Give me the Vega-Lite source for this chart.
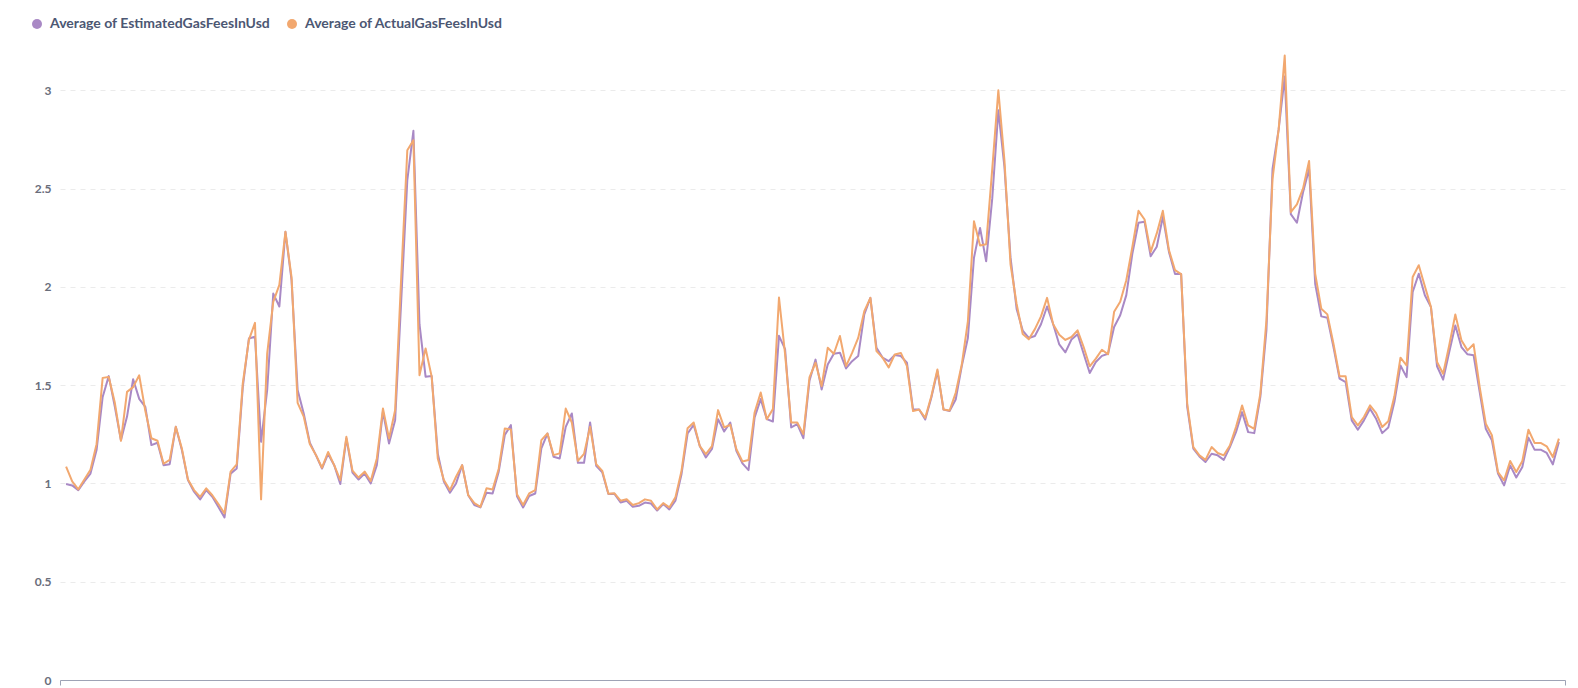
{
  "$schema": "https://vega.github.io/schema/vega-lite/v6.json",
  "width": 1505,
  "height": 629,
  "autosize": {"type": "none"},
  "padding": {"left": 60, "top": 51, "right": 13, "bottom": 8},
  "background": "white",
  "config": {"view": {"stroke": null}, "font": "Lato"},
  "data": {"values": [
    {"day":0,"estimated":0.997,"actual":1.085},{"day":1,"estimated":0.99,"actual":1.01},{"day":2,"estimated":0.966,"actual":0.97},{"day":3,"estimated":1.01,"actual":1.02},{"day":4,"estimated":1.05,"actual":1.07},{"day":5,"estimated":1.17,"actual":1.2},{"day":6,"estimated":1.44,"actual":1.537},{"day":7,"estimated":1.546,"actual":1.542},{"day":8,"estimated":1.39,"actual":1.41},{"day":9,"estimated":1.22,"actual":1.217},
    {"day":10,"estimated":1.34,"actual":1.466},{"day":11,"estimated":1.53,"actual":1.49},{"day":12,"estimated":1.43,"actual":1.55},{"day":13,"estimated":1.39,"actual":1.37},{"day":14,"estimated":1.195,"actual":1.23},{"day":15,"estimated":1.207,"actual":1.217},{"day":16,"estimated":1.093,"actual":1.1},{"day":17,"estimated":1.098,"actual":1.12},{"day":18,"estimated":1.288,"actual":1.288},{"day":19,"estimated":1.17,"actual":1.178},
    {"day":20,"estimated":1.017,"actual":1.02},{"day":21,"estimated":0.958,"actual":0.966},{"day":22,"estimated":0.919,"actual":0.932},{"day":23,"estimated":0.966,"actual":0.975},{"day":24,"estimated":0.932,"actual":0.94},{"day":25,"estimated":0.88,"actual":0.895},{"day":26,"estimated":0.827,"actual":0.847},{"day":27,"estimated":1.05,"actual":1.06},{"day":28,"estimated":1.076,"actual":1.097},{"day":29,"estimated":1.49,"actual":1.51},
    {"day":30,"estimated":1.737,"actual":1.73},{"day":31,"estimated":1.746,"actual":1.817},{"day":32,"estimated":1.212,"actual":0.919},{"day":33,"estimated":1.475,"actual":1.66},{"day":34,"estimated":1.966,"actual":1.924},{"day":35,"estimated":1.9,"actual":2.01},{"day":36,"estimated":2.28,"actual":2.28},{"day":37,"estimated":2.034,"actual":2.05},{"day":38,"estimated":1.475,"actual":1.41},{"day":39,"estimated":1.356,"actual":1.34},
    {"day":40,"estimated":1.207,"actual":1.2},{"day":41,"estimated":1.144,"actual":1.145},{"day":42,"estimated":1.076,"actual":1.08},{"day":43,"estimated":1.15,"actual":1.16},{"day":44,"estimated":1.093,"actual":1.093},{"day":45,"estimated":0.997,"actual":1.017},{"day":46,"estimated":1.229,"actual":1.237},{"day":47,"estimated":1.055,"actual":1.065},{"day":48,"estimated":1.02,"actual":1.03},{"day":49,"estimated":1.05,"actual":1.06},
    {"day":50,"estimated":1.0,"actual":1.012},{"day":51,"estimated":1.093,"actual":1.127},{"day":52,"estimated":1.365,"actual":1.381},{"day":53,"estimated":1.203,"actual":1.229},{"day":54,"estimated":1.322,"actual":1.373},{"day":55,"estimated":1.93,"actual":2.05},{"day":56,"estimated":2.543,"actual":2.695},{"day":57,"estimated":2.794,"actual":2.746},{"day":58,"estimated":1.81,"actual":1.55},{"day":59,"estimated":1.543,"actual":1.687},
    {"day":60,"estimated":1.546,"actual":1.543},{"day":61,"estimated":1.153,"actual":1.127},{"day":62,"estimated":1.01,"actual":1.017},{"day":63,"estimated":0.953,"actual":0.966},{"day":64,"estimated":1.0,"actual":1.034},{"day":65,"estimated":1.093,"actual":1.093},{"day":66,"estimated":0.94,"actual":0.94},{"day":67,"estimated":0.89,"actual":0.9},{"day":68,"estimated":0.878,"actual":0.881},{"day":69,"estimated":0.953,"actual":0.975},
    {"day":70,"estimated":0.949,"actual":0.969},{"day":71,"estimated":1.06,"actual":1.075},{"day":72,"estimated":1.246,"actual":1.28},{"day":73,"estimated":1.297,"actual":1.275},{"day":74,"estimated":0.935,"actual":0.945},{"day":75,"estimated":0.878,"actual":0.89},{"day":76,"estimated":0.936,"actual":0.949},{"day":77,"estimated":0.949,"actual":0.966},{"day":78,"estimated":1.178,"actual":1.22},{"day":79,"estimated":1.254,"actual":1.254},
    {"day":80,"estimated":1.136,"actual":1.144},{"day":81,"estimated":1.127,"actual":1.153},{"day":82,"estimated":1.288,"actual":1.381},{"day":83,"estimated":1.356,"actual":1.31},{"day":84,"estimated":1.105,"actual":1.115},{"day":85,"estimated":1.105,"actual":1.15},{"day":86,"estimated":1.31,"actual":1.288},{"day":87,"estimated":1.09,"actual":1.098},{"day":88,"estimated":1.056,"actual":1.064},{"day":89,"estimated":0.946,"actual":0.948},
    {"day":90,"estimated":0.947,"actual":0.95},{"day":91,"estimated":0.903,"actual":0.912},{"day":92,"estimated":0.912,"actual":0.92},{"day":93,"estimated":0.881,"actual":0.89},{"day":94,"estimated":0.886,"actual":0.9},{"day":95,"estimated":0.903,"actual":0.919},{"day":96,"estimated":0.898,"actual":0.912},{"day":97,"estimated":0.862,"actual":0.868},{"day":98,"estimated":0.895,"actual":0.9},{"day":99,"estimated":0.868,"actual":0.878},
    {"day":100,"estimated":0.912,"actual":0.929},{"day":101,"estimated":1.047,"actual":1.064},{"day":102,"estimated":1.254,"actual":1.281},{"day":103,"estimated":1.298,"actual":1.31},{"day":104,"estimated":1.19,"actual":1.19},{"day":105,"estimated":1.132,"actual":1.149},{"day":106,"estimated":1.175,"actual":1.19},{"day":107,"estimated":1.327,"actual":1.373},{"day":108,"estimated":1.264,"actual":1.285},{"day":109,"estimated":1.31,"actual":1.298},
    {"day":110,"estimated":1.166,"actual":1.175},{"day":111,"estimated":1.102,"actual":1.112},{"day":112,"estimated":1.068,"actual":1.119},{"day":113,"estimated":1.336,"actual":1.361},{"day":114,"estimated":1.429,"actual":1.463},{"day":115,"estimated":1.327,"actual":1.327},{"day":116,"estimated":1.315,"actual":1.378},{"day":117,"estimated":1.751,"actual":1.946},{"day":118,"estimated":1.683,"actual":1.658},{"day":119,"estimated":1.285,"actual":1.31},
    {"day":120,"estimated":1.302,"actual":1.31},{"day":121,"estimated":1.23,"actual":1.251},{"day":122,"estimated":1.522,"actual":1.539},{"day":123,"estimated":1.63,"actual":1.614},{"day":124,"estimated":1.478,"actual":1.495},{"day":125,"estimated":1.605,"actual":1.69},{"day":126,"estimated":1.66,"actual":1.66},{"day":127,"estimated":1.665,"actual":1.75},{"day":128,"estimated":1.585,"actual":1.597},{"day":129,"estimated":1.622,"actual":1.664},
    {"day":130,"estimated":1.648,"actual":1.74},{"day":131,"estimated":1.86,"actual":1.876},{"day":132,"estimated":1.944,"actual":1.944},{"day":133,"estimated":1.69,"actual":1.673},{"day":134,"estimated":1.64,"actual":1.64},{"day":135,"estimated":1.622,"actual":1.59},{"day":136,"estimated":1.653,"actual":1.656},{"day":137,"estimated":1.648,"actual":1.664},{"day":138,"estimated":1.614,"actual":1.597},{"day":139,"estimated":1.376,"actual":1.368},
    {"day":140,"estimated":1.376,"actual":1.376},{"day":141,"estimated":1.325,"actual":1.334},{"day":142,"estimated":1.436,"actual":1.444},{"day":143,"estimated":1.571,"actual":1.58},{"day":144,"estimated":1.376,"actual":1.376},{"day":145,"estimated":1.368,"actual":1.371},{"day":146,"estimated":1.427,"actual":1.461},{"day":147,"estimated":1.597,"actual":1.605},{"day":148,"estimated":1.74,"actual":1.825},{"day":149,"estimated":2.148,"actual":2.334},
    {"day":150,"estimated":2.3,"actual":2.21},{"day":151,"estimated":2.13,"actual":2.217},{"day":152,"estimated":2.45,"actual":2.6},{"day":153,"estimated":2.898,"actual":3.0},{"day":154,"estimated":2.61,"actual":2.644},{"day":155,"estimated":2.15,"actual":2.115},{"day":156,"estimated":1.888,"actual":1.913},{"day":157,"estimated":1.778,"actual":1.76},{"day":158,"estimated":1.74,"actual":1.733},{"day":159,"estimated":1.75,"actual":1.785},
    {"day":160,"estimated":1.81,"actual":1.85},{"day":161,"estimated":1.9,"actual":1.944},{"day":162,"estimated":1.81,"actual":1.81},{"day":163,"estimated":1.707,"actual":1.756},{"day":164,"estimated":1.667,"actual":1.73},{"day":165,"estimated":1.732,"actual":1.745},{"day":166,"estimated":1.759,"actual":1.779},{"day":167,"estimated":1.66,"actual":1.694},{"day":168,"estimated":1.562,"actual":1.596},{"day":169,"estimated":1.618,"actual":1.635},
    {"day":170,"estimated":1.649,"actual":1.68},{"day":171,"estimated":1.66,"actual":1.657},{"day":172,"estimated":1.796,"actual":1.873},{"day":173,"estimated":1.856,"actual":1.924},{"day":174,"estimated":1.958,"actual":2.034},{"day":175,"estimated":2.17,"actual":2.204},{"day":176,"estimated":2.326,"actual":2.387},{"day":177,"estimated":2.331,"actual":2.343},{"day":178,"estimated":2.156,"actual":2.178},{"day":179,"estimated":2.204,"actual":2.272},
    {"day":180,"estimated":2.357,"actual":2.387},{"day":181,"estimated":2.178,"actual":2.187},{"day":182,"estimated":2.065,"actual":2.085},{"day":183,"estimated":2.065,"actual":2.065},{"day":184,"estimated":1.389,"actual":1.406},{"day":185,"estimated":1.177,"actual":1.185},{"day":186,"estimated":1.137,"actual":1.143},{"day":187,"estimated":1.109,"actual":1.12},{"day":188,"estimated":1.151,"actual":1.185},{"day":189,"estimated":1.143,"actual":1.155},
    {"day":190,"estimated":1.12,"actual":1.143},{"day":191,"estimated":1.185,"actual":1.193},{"day":192,"estimated":1.261,"actual":1.287},{"day":193,"estimated":1.363,"actual":1.397},{"day":194,"estimated":1.261,"actual":1.295},{"day":195,"estimated":1.256,"actual":1.278},{"day":196,"estimated":1.44,"actual":1.457},{"day":197,"estimated":1.78,"actual":1.83},{"day":198,"estimated":2.6,"actual":2.55},{"day":199,"estimated":2.8,"actual":2.8},
    {"day":200,"estimated":3.07,"actual":3.177},{"day":201,"estimated":2.37,"actual":2.38},{"day":202,"estimated":2.326,"actual":2.42},{"day":203,"estimated":2.48,"actual":2.5},{"day":204,"estimated":2.6,"actual":2.64},{"day":205,"estimated":2.016,"actual":2.067},{"day":206,"estimated":1.85,"actual":1.889},{"day":207,"estimated":1.843,"actual":1.86},{"day":208,"estimated":1.694,"actual":1.711},{"day":209,"estimated":1.533,"actual":1.545},
    {"day":210,"estimated":1.516,"actual":1.545},{"day":211,"estimated":1.321,"actual":1.338},{"day":212,"estimated":1.273,"actual":1.295},{"day":213,"estimated":1.321,"actual":1.338},{"day":214,"estimated":1.38,"actual":1.397},{"day":215,"estimated":1.329,"actual":1.358},{"day":216,"estimated":1.256,"actual":1.287},{"day":217,"estimated":1.284,"actual":1.316},{"day":218,"estimated":1.414,"actual":1.443},{"day":219,"estimated":1.6,"actual":1.64},
    {"day":220,"estimated":1.541,"actual":1.6},{"day":221,"estimated":1.974,"actual":2.05},{"day":222,"estimated":2.067,"actual":2.11},{"day":223,"estimated":1.957,"actual":2.003},{"day":224,"estimated":1.897,"actual":1.897},{"day":225,"estimated":1.596,"actual":1.618},{"day":226,"estimated":1.528,"actual":1.558},{"day":227,"estimated":1.669,"actual":1.703},{"day":228,"estimated":1.804,"actual":1.86},{"day":229,"estimated":1.694,"actual":1.728},
    {"day":230,"estimated":1.657,"actual":1.677},{"day":231,"estimated":1.652,"actual":1.708},{"day":232,"estimated":1.465,"actual":1.49},{"day":233,"estimated":1.278,"actual":1.304},{"day":234,"estimated":1.219,"actual":1.245},{"day":235,"estimated":1.05,"actual":1.058},{"day":236,"estimated":0.99,"actual":1.016},{"day":237,"estimated":1.092,"actual":1.114},{"day":238,"estimated":1.03,"actual":1.058},{"day":239,"estimated":1.084,"actual":1.114},
    {"day":240,"estimated":1.233,"actual":1.273},{"day":241,"estimated":1.172,"actual":1.206},{"day":242,"estimated":1.172,"actual":1.206},{"day":243,"estimated":1.155,"actual":1.189},{"day":244,"estimated":1.097,"actual":1.134},{"day":245,"estimated":1.211,"actual":1.228}
  ]},
  "encoding": {
    "x": {
      "field": "day",
      "type": "quantitative",
      "scale": {"domain": [-1, 246], "nice": false, "zero": false},
      "axis": {
        "title": null,
        "labels": false,
        "grid": false,
        "values": [-1, 246],
        "ticks": true,
        "tickSize": 5,
        "tickColor": "#9EA3B5",
        "domainColor": "#9EA3B5",
        "domainWidth": 1
      }
    }
  },
  "layer": [
    {
      "mark": {"type": "line", "strokeWidth": 2, "strokeJoin": "round"},
      "encoding": {
        "y": {
          "field": "estimated",
          "type": "quantitative",
          "scale": {"domain": [0, 3.2], "nice": false},
          "axis": {
            "title": null,
            "values": [0, 0.5, 1, 1.5, 2, 2.5, 3],
            "format": "~g",
            "domain": false,
            "ticks": false,
            "labelPadding": 9,
            "labelFont": "Lato",
            "labelFontSize": 12,
            "labelFontWeight": "bold",
            "labelColor": "#696E7B",
            "gridColor": "#EBEBEB",
            "gridDash": [5, 5],
            "gridWidth": 1
          }
        },
        "color": {
          "datum": "Average of EstimatedGasFeesInUsd",
          "scale": {
            "domain": ["Average of EstimatedGasFeesInUsd", "Average of ActualGasFeesInUsd"],
            "range": ["#A989C5", "#F2A86F"]
          },
          "legend": {
            "title": null,
            "orient": "none",
            "legendX": -30,
            "legendY": -34,
            "direction": "horizontal",
            "symbolType": "circle",
            "symbolSize": 100,
            "symbolStrokeWidth": 0,
            "labelFont": "Lato",
            "labelFontSize": 14,
            "labelFontWeight": "bold",
            "labelColor": "#4C5773",
            "labelLimit": 0,
            "labelOffset": 6,
            "columnPadding": 14,
            "encode": {"symbols": {"update": {"fill": {"scale": "color", "field": "value"}, "fillOpacity": {"value": 1}}}}
          }
        }
      }
    },
    {
      "mark": {"type": "line", "strokeWidth": 2, "strokeJoin": "round"},
      "encoding": {
        "y": {
          "field": "actual",
          "type": "quantitative",
          "scale": {"domain": [0, 3.2], "nice": false},
          "axis": {
            "title": null,
            "values": [0, 0.5, 1, 1.5, 2, 2.5, 3],
            "format": "~g",
            "domain": false,
            "ticks": false,
            "labelPadding": 9,
            "labelFont": "Lato",
            "labelFontSize": 12,
            "labelFontWeight": "bold",
            "labelColor": "#696E7B",
            "gridColor": "#EBEBEB",
            "gridDash": [5, 5],
            "gridWidth": 1
          }
        },
        "color": {"datum": "Average of ActualGasFeesInUsd"}
      }
    }
  ]
}
